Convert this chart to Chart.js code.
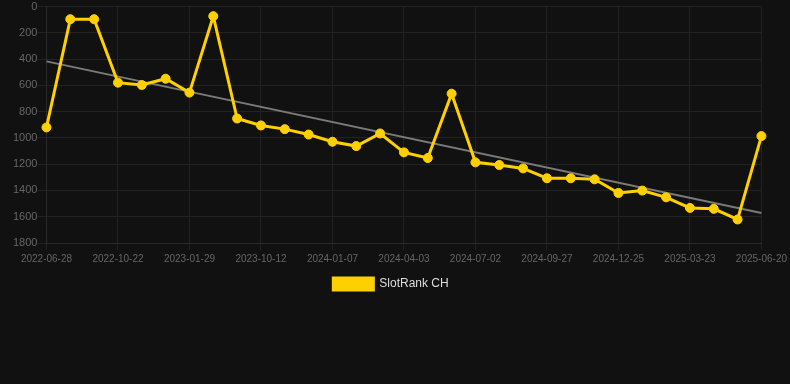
<!DOCTYPE html>
<html>
<head>
<meta charset="utf-8">
<script src="https://cdn.jsdelivr.net/npm/chart.js@4/dist/chart.umd.min.js"></script>
<style>
  html, body { margin: 0; padding: 0; background: #111111; }
  #wrap { width: 790px; height: 300px; position: relative; }
</style>
</head>
<body>
<div id="wrap"><canvas id="c"></canvas></div>
<script>
const dates = [
  "2022-06-28","2022-07-30","2022-09-01","2022-10-22","2022-11-20","2022-12-24",
  "2023-01-29","2023-03-15","2023-07-20","2023-10-12","2023-11-10","2023-12-09",
  "2024-01-07","2024-02-04","2024-03-05","2024-04-03","2024-05-02","2024-06-01",
  "2024-07-02","2024-07-31","2024-08-29","2024-09-27","2024-10-27","2024-11-25",
  "2024-12-25","2025-01-23","2025-02-21","2025-03-23","2025-04-21","2025-05-21",
  "2025-06-20"
];
const rankValues = [
  920, 96, 96, 579, 597, 549, 655, 73, 852, 905, 933, 974,
  1029, 1062, 966, 1110, 1153, 663, 1186, 1206, 1232, 1307, 1307, 1315,
  1419, 1401, 1452, 1533, 1540, 1621, 986
];
const trendStart = 417;
const trendEnd = 1571;
const trendValues = dates.map((d, i) => i === 0 ? trendStart : (i === dates.length - 1 ? trendEnd : null));
const yTicks = [0, 200, 400, 600, 800, 1000, 1200, 1400, 1600, 1800];

new Chart(document.getElementById('c'), {
  type: 'line',
  data: {
    labels: dates,
    datasets: [
      {
        label: 'SlotRank CH',
        data: rankValues,
        borderColor: '#FFD000',
        backgroundColor: '#FFD000',
        borderWidth: 3,
        pointRadius: 4.5,
        pointHoverRadius: 4.5,
        pointBorderWidth: 1,
        pointBackgroundColor: '#FFD000',
        pointBorderColor: '#FFD000',
        tension: 0,
        order: 1
      },
      {
        label: 'trend',
        data: trendValues,
        borderColor: '#7a7a7a',
        backgroundColor: '#7a7a7a',
        borderWidth: 2,
        pointRadius: 0,
        spanGaps: true,
        order: 2
      }
    ]
  },
  options: {
    responsive: true,
    maintainAspectRatio: false,
    animation: false,
    layout: { padding: { left: 13, right: 21, top: 0, bottom: 0 } },
    plugins: {
      legend: {
        position: 'bottom',
        labels: {
          color: '#dddddd',
          font: { size: 12 },
          boxWidth: 40,
          boxHeight: 12,
          padding: 10,
          filter: (item) => item.text !== 'trend'
        }
      },
      tooltip: { enabled: false }
    },
    scales: {
      x: {
        grid: {
          color: (ctx) => (ctx.index % 3 === 0 ? '#222222' : 'rgba(0,0,0,0)'),
          tickLength: 7
        },
        border: { color: '#2a2a2a' },
        ticks: {
          color: '#666666',
          font: { size: 10 },
          autoSkip: false,
          maxRotation: 0,
          minRotation: 0,
          callback: function(v, i) { return i % 3 === 0 ? this.getLabelForValue(v) : ''; }
        }
      },
      y: {
        reverse: true,
        min: 0,
        max: 1800,
        afterBuildTicks: (axis) => { axis.ticks = yTicks.map(v => ({ value: v })); },
        grid: { color: '#222222', tickLength: 9 },
        border: { color: '#2a2a2a' },
        ticks: { color: '#666666', padding: 0, font: { size: 11 }, callback: (v) => String(v) }
      }
    }
  }
});
</script>
</body>
</html>
